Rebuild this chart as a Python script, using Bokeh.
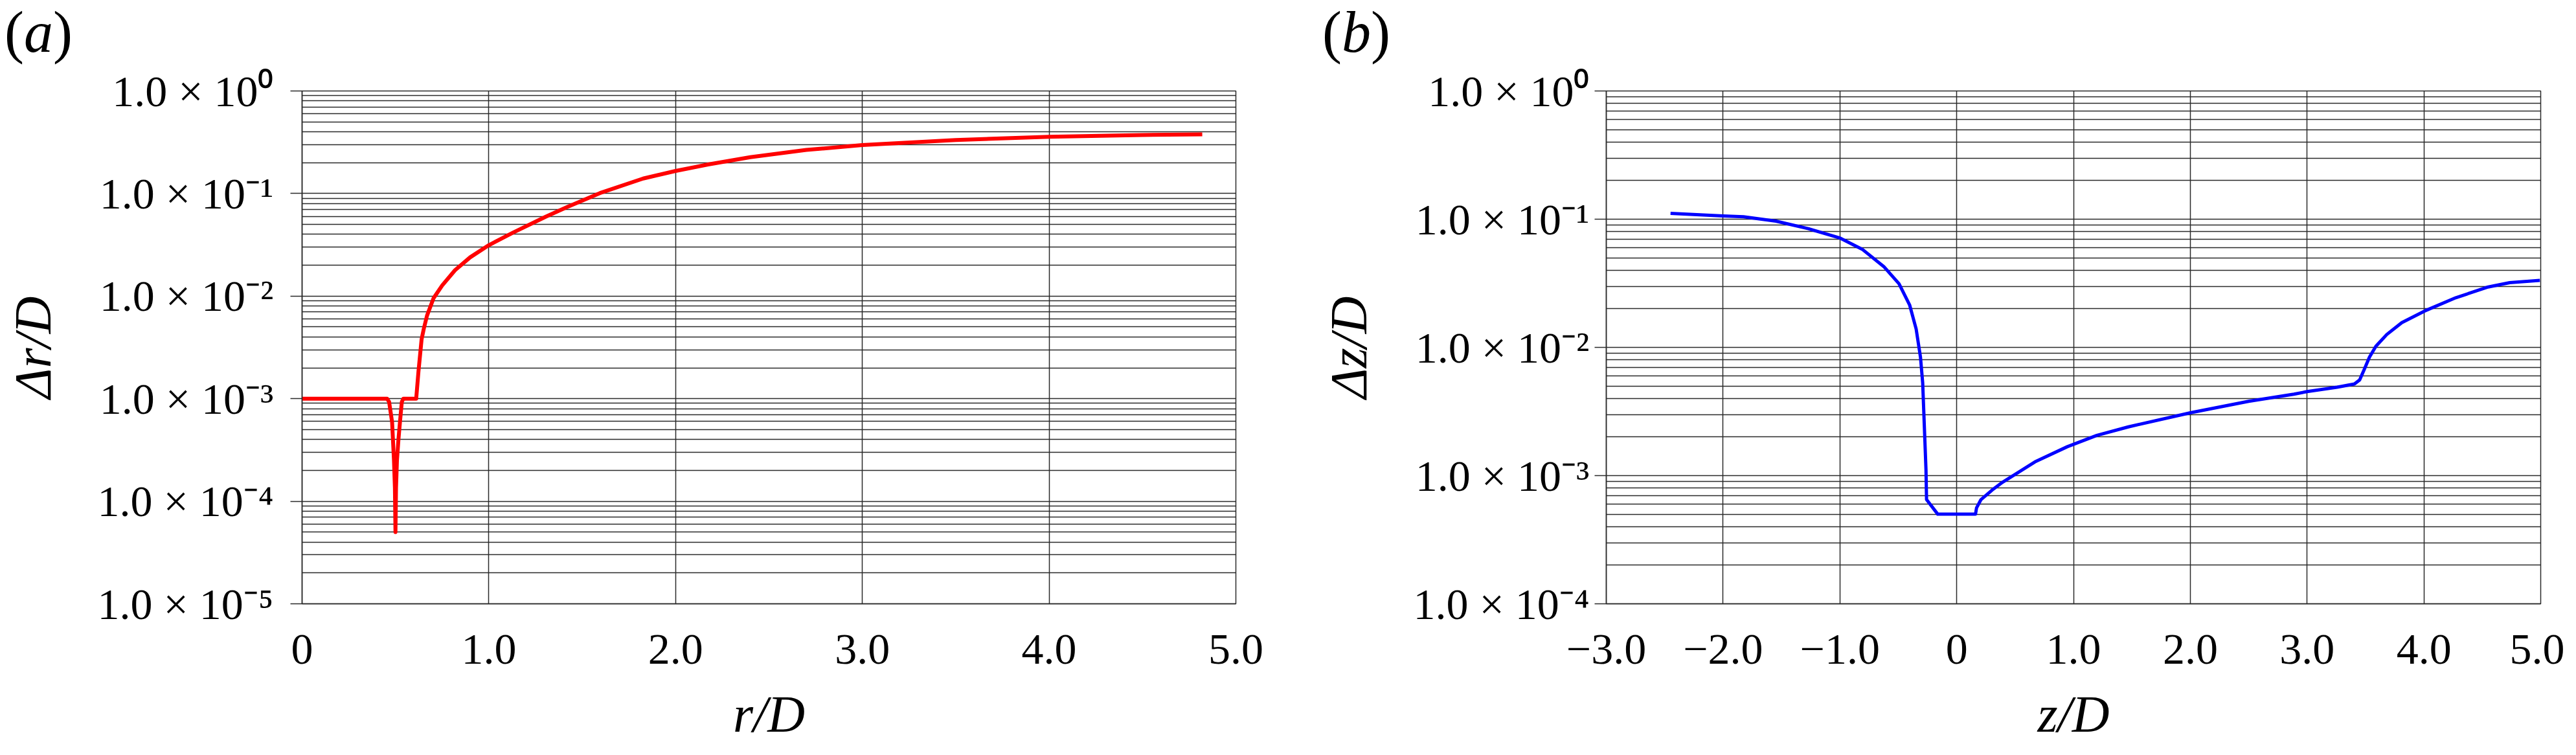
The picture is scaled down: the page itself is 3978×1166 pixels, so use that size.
from bokeh.plotting import figure
from bokeh.layouts import row, column
from bokeh.models import FixedTicker, Range1d, Div
from bokeh.embed import file_html
from bokeh.resources import INLINE

FONT = "Liberation Serif"

# ---- panel (a) data ----
r_over_D = [0.0, 0.455, 0.466, 0.482, 0.492, 0.497, 0.500, 0.503, 0.508, 0.516, 0.524, 0.534,
            0.542, 0.611, 0.623, 0.640, 0.652, 0.669, 0.704, 0.750, 0.819, 0.900, 0.999, 1.132,
            1.306, 1.421, 1.595, 1.826, 2.0, 2.174, 2.40, 2.70, 3.0, 3.5, 4.0, 4.5, 4.82]
dr_over_D = [1.0e-3, 1.0e-3, 9.3e-4, 5.9e-4, 2.5e-4, 1.35e-4, 5.0e-5, 1.35e-4, 2.5e-4, 4.0e-4, 5.9e-4,
             9.3e-4, 1.0e-3, 1.0e-3, 1.83e-3, 3.8e-3, 4.83e-3, 6.46e-3, 9.55e-3, 1.27e-2, 1.79e-2,
             2.39e-2, 3.13e-2, 4.18e-2, 5.96e-2, 7.41e-2, 0.101, 0.140, 0.166, 0.192, 0.226, 0.266,
             0.297, 0.333, 0.357, 0.372, 0.378]

# ---- panel (b) data ----
z_over_D = [-2.45, -2.0, -1.825, -1.548, -1.27, -1.003, -0.809, -0.624, -0.494, -0.402, -0.347,
            -0.31, -0.291, -0.277, -0.263, -0.258, -0.162, 0.161, 0.17, 0.208, 0.25, 0.30, 0.392,
            0.67, 0.947, 1.2, 1.47, 2.0, 2.5, 2.887, 3.0, 3.257, 3.405, 3.45, 3.487, 3.534, 3.589,
            3.682, 3.811, 4.005, 4.273, 4.55, 4.735, 4.993]
dz_over_D = [0.111, 0.106, 0.1045, 0.0966, 0.0843, 0.0715, 0.0583, 0.0427, 0.0314, 0.0213, 0.0139,
             8.39e-3, 5.27e-3, 2.43e-3, 1.12e-3, 6.5e-4, 5.0e-4, 5.0e-4, 5.6e-4, 6.5e-4, 7.0e-4,
             7.67e-4, 8.87e-4, 1.28e-3, 1.68e-3, 2.06e-3, 2.40e-3, 3.09e-3, 3.80e-3, 4.32e-3,
             4.52e-3, 4.89e-3, 5.18e-3, 5.58e-3, 6.65e-3, 8.39e-3, 1.02e-2, 1.26e-2, 1.56e-2,
             1.92e-2, 2.44e-2, 2.96e-2, 3.20e-2, 3.33e-2]

# ---- ticks ----
a_xticks = [0, 1, 2, 3, 4, 5]
a_xlabels = ["0", "1.0", "2.0", "3.0", "4.0", "5.0"]
b_xticks = [-3, -2, -1, 0, 1, 2, 3, 4, 5]
b_xlabels = ["\u22123.0", "\u22122.0", "\u22121.0", "0", "1.0", "2.0", "3.0", "4.0", "5.0"]
a_yticks = [1e-5, 1e-4, 1e-3, 1e-2, 1e-1, 1.0]
a_ylabels = ["1.0 \u00d7 10\u207b\u2075", "1.0 \u00d7 10\u207b\u2074", "1.0 \u00d7 10\u207b\u00b3",
             "1.0 \u00d7 10\u207b\u00b2", "1.0 \u00d7 10\u207b\u00b9", "1.0 \u00d7 10\u2070"]
b_yticks = [1e-4, 1e-3, 1e-2, 1e-1, 1.0]
b_ylabels = ["1.0 \u00d7 10\u207b\u2074", "1.0 \u00d7 10\u207b\u00b3",
             "1.0 \u00d7 10\u207b\u00b2", "1.0 \u00d7 10\u207b\u00b9", "1.0 \u00d7 10\u2070"]

GRID = "#2a2a2a"
TAG_H = 100
H = 1050


def minor_for(majors):
    out = []
    for m in majors[:-1]:
        for k in range(2, 10):
            out.append(m * k)
    return out


def tag_div(letter, width, pad_left):
    html = ('<div style="font-family: \'Liberation Serif\'; font-size: 90px; line-height: 100px; '
            'color: black; margin: 0; padding: 0 0 0 %dpx; white-space: nowrap;">(<i>%s</i>)</div>'
            % (pad_left, letter))
    return Div(text=html, width=width, height=TAG_H, margin=0)


def panel(width, bl, br, xr, yr, xticks, xlabels, yticks, ylabels, xlab, ylab,
          xs, ys, color, lw, ylab_standoff):
    p = figure(width=width, height=H, x_range=Range1d(*xr), y_range=Range1d(*yr),
               y_axis_type="log", output_backend="svg", toolbar_location=None,
               min_border_left=bl, min_border_right=br, min_border_top=40, min_border_bottom=218)
    p.background_fill_color = "white"
    p.border_fill_color = "white"
    p.outline_line_color = GRID
    p.outline_line_width = 1.5

    xt = FixedTicker(ticks=xticks)
    p.xaxis.ticker = xt
    p.xgrid.ticker = xt
    p.xaxis.major_label_overrides = dict(zip(xticks, xlabels))
    p.xaxis.major_tick_out = 0
    p.xaxis.major_tick_in = 0
    p.xaxis.minor_tick_line_color = None
    p.xaxis.major_label_standoff = 48
    p.xaxis.major_label_text_font = FONT
    p.xaxis.major_label_text_font_size = "68px"
    p.xaxis.major_label_text_color = "black"
    p.xaxis.axis_label = xlab
    p.xaxis.axis_label_text_font = FONT
    p.xaxis.axis_label_text_font_style = "italic"
    p.xaxis.axis_label_text_font_size = "80px"
    p.xaxis.axis_label_text_color = "black"
    p.xaxis.axis_label_standoff = 31
    p.xaxis.axis_line_color = GRID
    p.xaxis.axis_line_width = 1.5

    yt = FixedTicker(ticks=yticks, minor_ticks=minor_for(yticks))
    p.yaxis.ticker = yt
    p.ygrid.ticker = yt
    p.yaxis.major_label_overrides = dict(zip(yticks, ylabels))
    p.yaxis.major_tick_out = 18
    p.yaxis.major_tick_in = 0
    p.yaxis.major_tick_line_color = GRID
    p.yaxis.major_tick_line_width = 1.5
    p.yaxis.minor_tick_line_color = None
    p.yaxis.major_label_standoff = ylab_standoff
    p.yaxis.major_label_text_font = FONT
    p.yaxis.major_label_text_font_size = "68px"
    p.yaxis.major_label_text_color = "black"
    p.yaxis.axis_label = ylab
    p.yaxis.axis_label_text_font = FONT
    p.yaxis.axis_label_text_font_style = "italic"
    p.yaxis.axis_label_text_font_size = "80px"
    p.yaxis.axis_label_text_color = "black"
    p.yaxis.axis_label_standoff = 52
    p.yaxis.axis_line_color = GRID
    p.yaxis.axis_line_width = 1.5

    for g in (p.xgrid, p.ygrid):
        g.grid_line_color = GRID
        g.grid_line_width = 1.5
        g.grid_line_alpha = 1.0
    p.ygrid.minor_grid_line_color = GRID
    p.ygrid.minor_grid_line_width = 1.5

    p.line(xs, ys, line_color=color, line_width=lw, line_join="round")
    return p


pa = panel(2000, 466, 92, (0, 5), (1e-5, 1.0), a_xticks, a_xlabels, a_yticks, a_ylabels,
           "r/D", "\u0394r/D", r_over_D, dr_over_D, "#ff0000", 6, 26)
pb = panel(1960, 480, 37, (-3, 5), (1e-4, 1.0), b_xticks, b_xlabels, b_yticks, b_ylabels,
           "z/D", "\u0394z/D", z_over_D, dz_over_D, "#0000ff", 5, 8)

tags = row(tag_div("a", 2000, 7), tag_div("b", 1960, 42), spacing=0)
plots = row(pa, pb, spacing=0)
layout = column(tags, plots, spacing=0)
open("out.html", "w").write(file_html(layout, INLINE))
